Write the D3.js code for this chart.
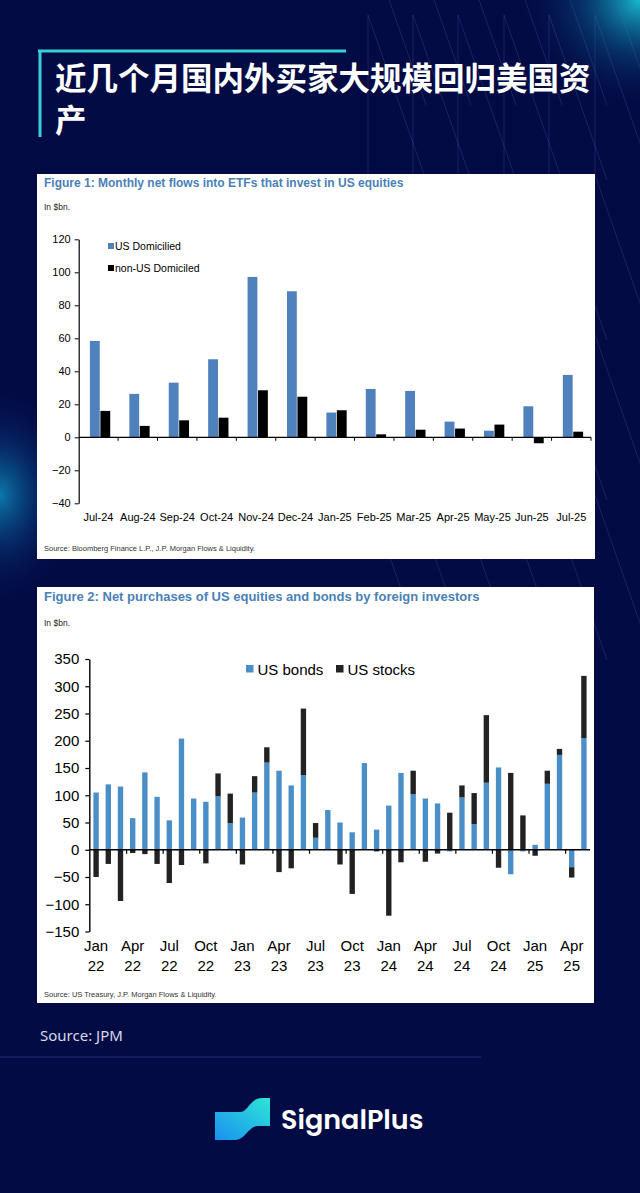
<!DOCTYPE html>
<html>
<head>
<meta charset="utf-8">
<script src="https://cdn.jsdelivr.net/npm/d3@7"></script>
<style>
  html, body { margin: 0; padding: 0; background: #030b45; }
  svg { display: block; }
</style>
</head>
<body>
<div id="page"></div>
<script>
// ---- data ----
var titleLines = ['近几个月国内外买家大规模回归美国资', '产'];

// Figure 1
var f1Months = ['Jul-24', 'Aug-24', 'Sep-24', 'Oct-24', 'Nov-24', 'Dec-24', 'Jan-25',
                'Feb-25', 'Mar-25', 'Apr-25', 'May-25', 'Jun-25', 'Jul-25'];
var f1UsDomiciled    = [58.4, 26.3, 33.1, 47.3, 97.2, 88.5, 15.0, 29.3, 28.1, 9.5, 4.0, 18.8, 37.8];
var f1NonUsDomiciled = [16.0, 6.9, 10.3, 11.9, 28.5, 24.6, 16.4, 1.8, 4.6, 5.3, 7.7, -3.6, 3.4];
var f1Ticks = [120, 100, 80, 60, 40, 20, 0, -20, -40];

// Figure 2
var f2Months = ['Jan-22','Feb-22','Mar-22','Apr-22','May-22','Jun-22','Jul-22','Aug-22','Sep-22','Oct-22','Nov-22','Dec-22',
                'Jan-23','Feb-23','Mar-23','Apr-23','May-23','Jun-23','Jul-23','Aug-23','Sep-23','Oct-23','Nov-23','Dec-23',
                'Jan-24','Feb-24','Mar-24','Apr-24','May-24','Jun-24','Jul-24','Aug-24','Sep-24','Oct-24','Nov-24','Dec-24',
                'Jan-25','Feb-25','Mar-25','Apr-25','May-25'];
var f2Bonds  = [105, 120, 116, 58, 142, 97, 54, 204, 94, 88, 98, 49,
                59, 105, 160, 145, 118, 137, 22, 73, 50, 32, 159, 37,
                81, 141, 102, 94, 85, -3, 96, 47, 123, 151, -45, -3,
                9, 121, 174, -32, 205];
var f2Stocks = [-50, -26, -94, -6, -8, -26, -61, -28, 0, -25, 42, 54,
                -27, 30, 28, -41, -34, 122, 27, 0, -27, -81, 0, -3,
                -121, -23, 43, -22, -7, 68, 22, 57, 124, -33, 141, 63,
                -11, 24, 11, -19, 114];
var f2Ticks = [350, 300, 250, 200, 150, 100, 50, 0, -50, -100, -150];
var f2LabelMonths = ['Jan-22','Apr-22','Jul-22','Oct-22','Jan-23','Apr-23','Jul-23','Oct-23',
                     'Jan-24','Apr-24','Jul-24','Oct-24','Jan-25','Apr-25'];

var W = 640, H = 1193;
var narrow = "'Liberation Sans Narrow', 'Arial Narrow', 'Liberation Sans', Arial, sans-serif";
var arial  = "'Liberation Sans', Arial, sans-serif";

var svg = d3.select('#page').append('svg')
            .attr('width', W)
            .attr('height', H);

var defs = svg.append('defs');

var g1 = defs.append('radialGradient').attr('id', 'glowTR');
g1.append('stop').attr('offset', '0%').attr('stop-color', '#19c3d6').attr('stop-opacity', 0.95);
g1.append('stop').attr('offset', '45%').attr('stop-color', '#0b6f9c').attr('stop-opacity', 0.45);
g1.append('stop').attr('offset', '100%').attr('stop-color', '#030b45').attr('stop-opacity', 0);

var g2 = defs.append('radialGradient').attr('id', 'glowL');
g2.append('stop').attr('offset', '0%').attr('stop-color', '#0d86b4').attr('stop-opacity', 0.9);
g2.append('stop').attr('offset', '50%').attr('stop-color', '#08488a').attr('stop-opacity', 0.4);
g2.append('stop').attr('offset', '100%').attr('stop-color', '#030b45').attr('stop-opacity', 0);

var logoGrad = defs.append('linearGradient').attr('id', 'logoGrad')
                   .attr('x1', '0%').attr('y1', '100%').attr('x2', '100%').attr('y2', '0%');
logoGrad.append('stop').attr('offset', '0%').attr('stop-color', '#1a8ff0');
logoGrad.append('stop').attr('offset', '100%').attr('stop-color', '#2de6d6');

// ---- background ----
svg.append('rect').attr('width', W).attr('height', H).attr('fill', '#030b45');
svg.append('ellipse').attr('cx', 640).attr('cy', 0).attr('rx', 120).attr('ry', 110).attr('fill', 'url(#glowTR)');
svg.append('ellipse').attr('cx', 0).attr('cy', 495).attr('rx', 80).attr('ry', 110).attr('fill', 'url(#glowL)');

// faint line pattern at the top right
var pattern = svg.append('g').attr('stroke', '#5c6fc0').attr('stroke-opacity', 0.35).attr('stroke-width', 0.7);
var vx = [368, 413, 458, 504, 549, 595];
vx.forEach(function (x) {
    pattern.append('line').attr('x1', x).attr('y1', 15).attr('x2', x).attr('y2', 175);
});
[-60, 15, 175, 335, 495].forEach(function (y0) {
    vx.concat([640]).forEach(function (x) {
        pattern.append('line')
               .attr('x1', x).attr('y1', y0)
               .attr('x2', x + 58).attr('y2', y0 + 165);
    });
});

// ---- header ----
svg.append('line').attr('x1', 38).attr('y1', 51).attr('x2', 346).attr('y2', 51)
   .attr('stroke', '#36d0d6').attr('stroke-width', 3);
svg.append('line').attr('x1', 40).attr('y1', 50).attr('x2', 40).attr('y2', 137)
   .attr('stroke', '#36d0d6').attr('stroke-width', 3);

svg.selectAll('.title')
   .data(titleLines)
   .enter()
   .append('text')
   .attr('class', 'title')
   .attr('x', 55)
   .attr('y', function (d, i) { return 90 + i * 42; })
   .attr('font-family', "'Noto Sans CJK SC', sans-serif")
   .attr('font-weight', 'bold')
   .attr('font-size', '31.5px')
   .attr('fill', '#ffffff')
   .text(function (d) { return d; });

// ---- Figure 1 ----
svg.append('rect').attr('x', 37).attr('y', 174).attr('width', 558).attr('height', 385).attr('fill', '#ffffff');

svg.append('text').attr('x', 44).attr('y', 187)
   .attr('font-family', arial).attr('font-weight', 'bold').attr('font-size', '12px')
   .attr('fill', '#4a7fb8')
   .text('Figure 1: Monthly net flows into ETFs that invest in US equities');
svg.append('text').attr('x', 44).attr('y', 210)
   .attr('font-family', arial).attr('font-size', '8.5px').attr('fill', '#222')
   .text('In $bn.');
svg.append('text').attr('x', 44).attr('y', 551)
   .attr('font-family', arial).attr('font-size', '7.5px').attr('fill', '#333')
   .text('Source: Bloomberg Finance L.P., J.P. Morgan Flows & Liquidity.');

var f1x = d3.scaleBand().domain(f1Months).range([78.7, 591]);
var f1y = d3.scaleLinear().domain([-40, 120]).range([503.3, 239.3]);
var bw1 = f1x.bandwidth();
var f1x1 = d3.scaleBand().domain(['us', 'non']).range([bw1 * 0.285, bw1 * 0.8]).paddingInner(0.06);

var f1 = svg.append('g');

f1.selectAll('.usBar')
  .data(f1UsDomiciled)
  .enter()
  .append('rect')
  .attr('x', function (d, i) { return f1x(f1Months[i]) + f1x1('us'); })
  .attr('y', function (d) { return f1y(Math.max(0, d)); })
  .attr('width', f1x1.bandwidth())
  .attr('height', function (d) { return Math.abs(f1y(d) - f1y(0)); })
  .attr('fill', '#4f81bd');

f1.selectAll('.nonBar')
  .data(f1NonUsDomiciled)
  .enter()
  .append('rect')
  .attr('x', function (d, i) { return f1x(f1Months[i]) + f1x1('non'); })
  .attr('y', function (d) { return f1y(Math.max(0, d)); })
  .attr('width', f1x1.bandwidth())
  .attr('height', function (d) { return Math.abs(f1y(d) - f1y(0)); })
  .attr('fill', '#000000');

// y axis
var f1yAxis = d3.axisLeft(f1y).tickValues(f1Ticks).tickSize(4).tickSizeOuter(0);
var f1ya = f1.append('g').attr('transform', 'translate(78.7,0)').call(f1yAxis);
f1ya.select('.domain').attr('stroke', '#000').attr('stroke-width', 1.2);
f1ya.selectAll('.tick line').attr('stroke', '#000');
f1ya.selectAll('.tick text').attr('font-family', narrow).attr('font-size', '11px').attr('fill', '#000').attr('x', -8);

// x axis at zero, ticks at category boundaries
f1.append('line').attr('x1', 78.7).attr('x2', 591).attr('y1', f1y(0)).attr('y2', f1y(0))
  .attr('stroke', '#000').attr('stroke-width', 1.2);
f1.selectAll('.f1tick')
  .data(f1Months.slice(1).concat(['end']))
  .enter()
  .append('line')
  .attr('x1', function (d, i) { return f1x.range()[0] + (i + 1) * bw1; })
  .attr('x2', function (d, i) { return f1x.range()[0] + (i + 1) * bw1; })
  .attr('y1', f1y(0)).attr('y2', f1y(0) + 3.5)
  .attr('stroke', '#000');
f1.selectAll('.f1lab')
  .data(f1Months)
  .enter()
  .append('text')
  .attr('x', function (d) { return f1x(d) + bw1 / 2; })
  .attr('y', 521)
  .attr('text-anchor', 'middle')
  .attr('font-family', narrow).attr('font-size', '11px').attr('fill', '#000')
  .text(function (d) { return d; });

// legend
var f1Legend = [ { name: 'US Domicilied', color: '#4f81bd', y: 246 },
                 { name: 'non-US Domiciled', color: '#000000', y: 268 } ];
f1Legend.forEach(function (l) {
    f1.append('rect').attr('x', 108).attr('y', l.y - 3).attr('width', 6).attr('height', 6).attr('fill', l.color);
    f1.append('text').attr('x', 115).attr('y', l.y + 4)
      .attr('font-family', narrow).attr('font-size', '10.5px').attr('fill', '#000').text(l.name);
});

// ---- Figure 2 ----
svg.append('rect').attr('x', 37).attr('y', 587).attr('width', 557).attr('height', 416).attr('fill', '#ffffff');

svg.append('text').attr('x', 44).attr('y', 601)
   .attr('font-family', arial).attr('font-weight', 'bold').attr('font-size', '13px')
   .attr('fill', '#4a7fb8')
   .text('Figure 2: Net purchases of US equities and bonds by foreign investors');
svg.append('text').attr('x', 44).attr('y', 626)
   .attr('font-family', arial).attr('font-size', '8.5px').attr('fill', '#222')
   .text('In $bn.');
svg.append('text').attr('x', 44).attr('y', 997)
   .attr('font-family', arial).attr('font-size', '7.5px').attr('fill', '#333')
   .text('Source: US Treasury, J.P. Morgan Flows & Liquidity.');

var f2x = d3.scaleBand().domain(f2Months).range([90, 590]).paddingInner(0.56).paddingOuter(0.28);
var f2y = d3.scaleLinear().domain([-150, 350]).range([931.5, 659]);
var step2 = f2x.step();

var f2Rows = f2Months.map(function (m, i) { return { month: m, bonds: f2Bonds[i], stocks: f2Stocks[i] }; });
var stack = d3.stack().keys(['bonds', 'stocks']).offset(d3.stackOffsetDiverging);
var series = stack(f2Rows);
var f2Colors = { bonds: '#4a8ec8', stocks: '#222222' };

var f2 = svg.append('g');
f2.selectAll('.serie')
  .data(series)
  .enter()
  .append('g')
  .attr('fill', function (s) { return f2Colors[s.key]; })
  .selectAll('rect')
  .data(function (s) { return s; })
  .enter()
  .append('rect')
  .attr('x', function (d) { return f2x(d.data.month); })
  .attr('y', function (d) { return f2y(d[1]); })
  .attr('width', f2x.bandwidth())
  .attr('height', function (d) { return Math.abs(f2y(d[0]) - f2y(d[1])); });

var f2yAxis = d3.axisLeft(f2y).tickValues(f2Ticks).tickSize(4).tickSizeOuter(0);
var f2ya = f2.append('g').attr('transform', 'translate(89.3,0)').call(f2yAxis);
f2ya.select('.domain').attr('stroke', '#000').attr('stroke-width', 1.4);
f2ya.selectAll('.tick line').attr('stroke', '#000').attr('stroke-width', 1.2);
f2ya.selectAll('.tick text').attr('font-family', narrow).attr('font-size', '15px').attr('fill', '#000').attr('x', -10);

f2.append('line').attr('x1', 89.3).attr('x2', 590).attr('y1', f2y(0)).attr('y2', f2y(0))
  .attr('stroke', '#000').attr('stroke-width', 1.5);

// quarter ticks at band boundaries
f2.selectAll('.f2tick')
  .data(f2LabelMonths.slice(1))
  .enter()
  .append('line')
  .attr('x1', function (d) { return f2x(d) - (step2 - f2x.bandwidth()) / 2; })
  .attr('x2', function (d) { return f2x(d) - (step2 - f2x.bandwidth()) / 2; })
  .attr('y1', f2y(0)).attr('y2', f2y(0) + 4)
  .attr('stroke', '#000').attr('stroke-width', 1.2);

var f2Lab = f2.selectAll('.f2lab')
  .data(f2LabelMonths)
  .enter()
  .append('text')
  .attr('text-anchor', 'middle')
  .attr('font-family', narrow).attr('font-size', '15px').attr('fill', '#000');
f2Lab.append('tspan')
     .attr('x', function (d) { return f2x(d) + f2x.bandwidth() / 2; })
     .attr('y', 951)
     .text(function (d) { return d.split('-')[0]; });
f2Lab.append('tspan')
     .attr('x', function (d) { return f2x(d) + f2x.bandwidth() / 2; })
     .attr('y', 971)
     .text(function (d) { return d.split('-')[1]; });

var f2Legend = [ { name: 'US bonds', color: '#4a8ec8', x: 246 },
                 { name: 'US stocks', color: '#222222', x: 336 } ];
f2Legend.forEach(function (l) {
    f2.append('rect').attr('x', l.x).attr('y', 665).attr('width', 7.5).attr('height', 7.5).attr('fill', l.color);
    f2.append('text').attr('x', l.x + 11.5).attr('y', 675)
      .attr('font-family', narrow).attr('font-size', '15px').attr('fill', '#000').text(l.name);
});

// ---- footer ----
svg.append('text').attr('x', 40).attr('y', 1041)
   .attr('font-family', "'Noto Sans', sans-serif").attr('font-size', '15px')
   .attr('fill', '#d6d9e6')
   .text('Source: JPM');
svg.append('line').attr('x1', 0).attr('x2', 481).attr('y1', 1057).attr('y2', 1057)
   .attr('stroke', '#25307a').attr('stroke-width', 1);

// logo
svg.append('path')
   .attr('d', 'M215,1112 L240,1112 C248,1112 250,1098 262,1098 L270,1098 L270,1126 L258,1126 C248,1126 246,1140 234,1140 L215,1140 Z')
   .attr('fill', 'url(#logoGrad)');
svg.append('text').attr('x', 281).attr('y', 1129)
   .attr('font-family', "Poppins, Inter, 'Noto Sans', sans-serif").attr('font-weight', 600)
   .attr('font-size', '27px').attr('fill', '#ffffff')
   .text('SignalPlus');
</script>
</body>
</html>
